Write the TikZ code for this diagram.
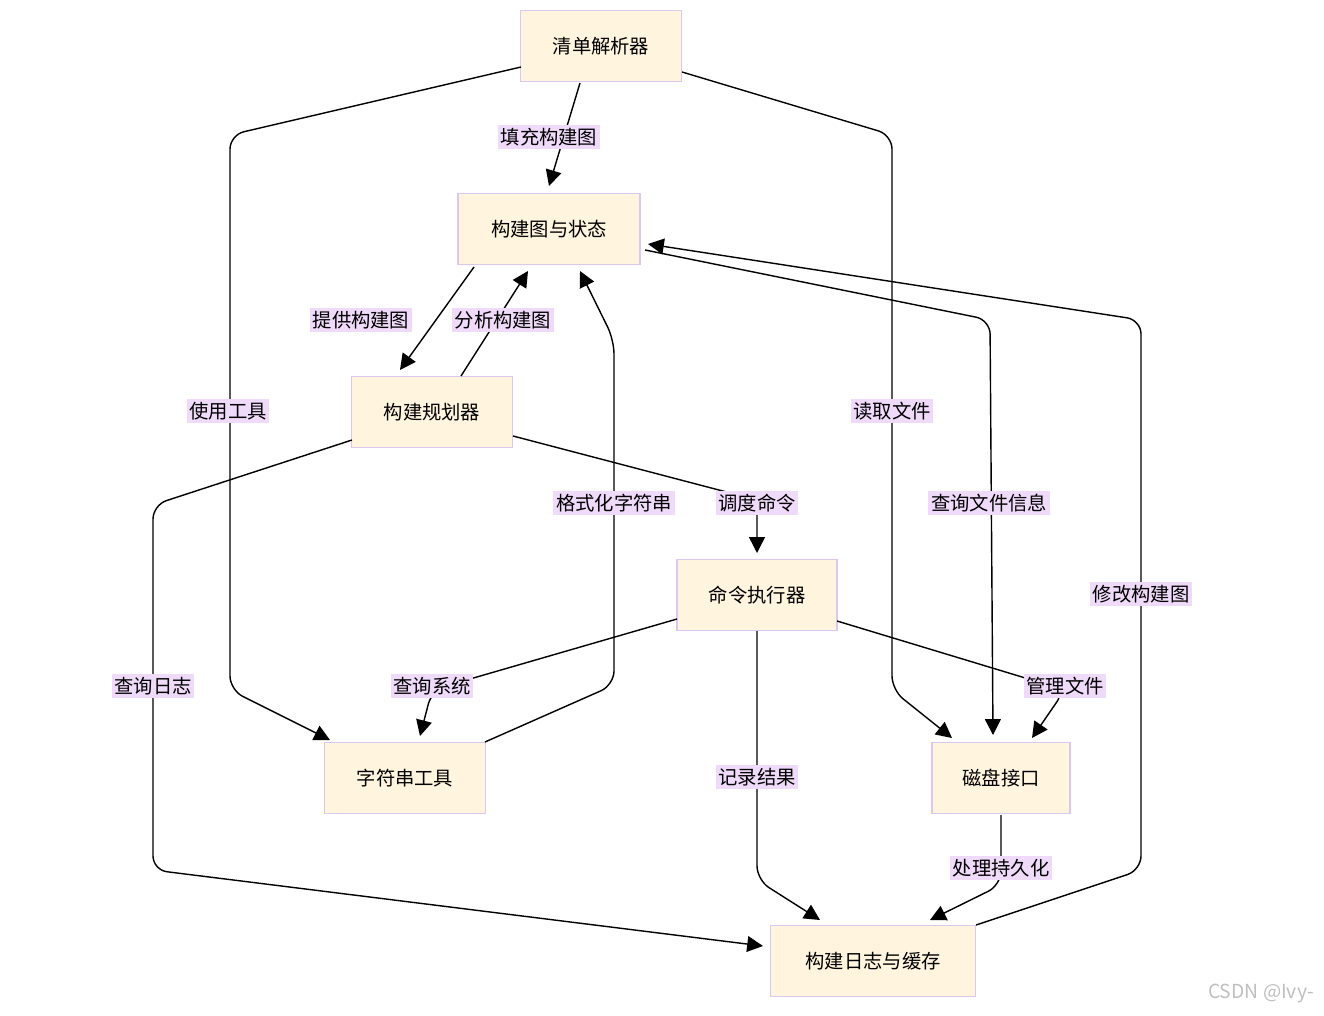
\documentclass[tikz,border=0pt]{standalone}
\usepackage{fontspec}
\setmainfont{Noto Sans CJK SC}
\usetikzlibrary{arrows.meta}
\definecolor{boxfill}{HTML}{FFF4DD}
\definecolor{boxline}{HTML}{DCC8EE}
\definecolor{labfill}{HTML}{F0DAFA}
\tikzset{
  box/.style={draw=boxline, fill=boxfill, line width=0.8pt, minimum height=71*0.02cm, font=\fontsize{11}{13}\selectfont},
  lab/.style={fill=labfill, inner sep=1.5pt, font=\fontsize{11}{13}\selectfont},
  flow/.style={draw=black, line width=0.8pt, rounded corners=8pt, -{Triangle[length=9pt,width=9pt]}}
}
\begin{document}
\begin{tikzpicture}[x=0.02cm, y=-0.02cm]
  \useasboundingbox (0,0) rectangle (1324,1016);
  % boxes
  \node[box, minimum width=161*0.02cm] (parser) at (601,46) {清单解析器};
  \node[box, minimum width=182*0.02cm] (graph) at (549,229) {构建图与状态};
  \node[box, minimum width=161*0.02cm] (planner) at (432,412) {构建规划器};
  \node[box, minimum width=160*0.02cm] (runner) at (757,595) {命令执行器};
  \node[box, minimum width=161*0.02cm] (strutil) at (405,778) {字符串工具};
  \node[box, minimum width=138*0.02cm] (disk) at (1001,778) {磁盘接口};
  \node[box, minimum width=205*0.02cm] (cache) at (873,961) {构建日志与缓存};

  % connectors
  \draw[flow] (580,83) -- (549,186);
  \draw[flow] (521,67) -- (230,135) -- (230,690) -- (330,740);
  \draw[flow] (682,72) -- (892,135) -- (892,690) -- (952,738);
  \draw[flow] (474,267) -- (400,370);
  \draw[flow] (461,376) -- (528,271);
  \draw[flow] (485,742) -- (614,685) -- (614,340) -- (580,271);
  \draw[flow] (513,436) -- (757,500) -- (757,553);
  \draw[flow] (352,440) -- (153,505) -- (153,870) -- (763,946);
  \draw[flow] (677,619) -- (432,690) -- (420,736);
  \draw[flow] (837,621) -- (1065,690) -- (1032,738);
  \draw[flow] (757,631) -- (757,880) -- (820,920);
  \draw[flow] (645,250) -- (990,320) -- (993,735);
  \draw[flow] (1001,815) -- (1001,885) -- (930,920);
  \draw[flow] (976,925) -- (1141,870) -- (1141,320) -- (648,244);

  % edge labels
  \node[lab] (l1) at (549,137) {填充构建图};
  \node[lab] (l2) at (228,411) {使用工具};
  \node[lab] (l3) at (892,411) {读取文件};
  \node[lab] (l4) at (361,320) {提供构建图};
  \node[lab] (l5) at (503,320) {分析构建图};
  \node[lab] (l6) at (614,503) {格式化字符串};
  \node[lab] (l7) at (757,503) {调度命令};
  \node[lab] (l8) at (153,686) {查询日志};
  \node[lab] (l9) at (432,686) {查询系统};
  \node[lab] (l10) at (1065,686) {管理文件};
  \node[lab] (l11) at (757,777) {记录结果};
  \node[lab] (l12) at (989,503) {查询文件信息};
  \node[lab] (l13) at (1001,868) {处理持久化};
  \node[lab] (l14) at (1141,594) {修改构建图};

  \node[text=black!25, font=\fontsize{11}{13}\selectfont, anchor=east] (mark) at (1320,994) {CSDN @Ivy-};
\end{tikzpicture}
\end{document}
